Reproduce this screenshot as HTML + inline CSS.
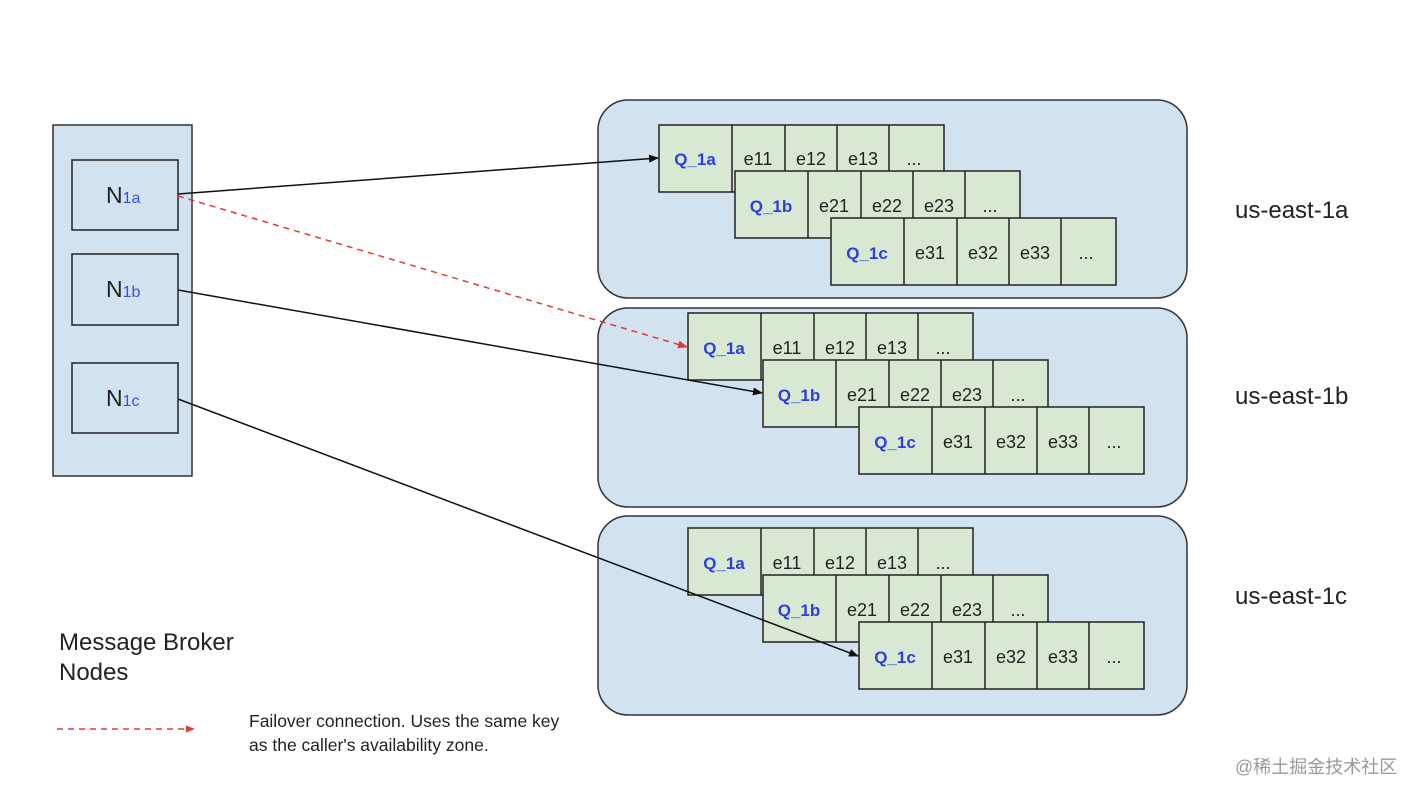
<!DOCTYPE html>
<html><head><meta charset="utf-8"><style>
html,body{margin:0;padding:0;background:#fff;}
svg{display:block;font-family:"Liberation Sans",Arial,sans-serif;}
.q{fill:#2b3ee0;font-weight:bold;font-size:17px;text-anchor:middle;}
.e{fill:#222;font-size:18px;text-anchor:middle;}
</style></head><body>
<svg width="1418" height="798" viewBox="0 0 1418 798" xmlns="http://www.w3.org/2000/svg">
<defs>
<g id="row">
<rect x="0" y="0" width="285" height="67" fill="#d9e8d2" stroke="#222" stroke-width="1.5"/>
<line x1="73" y1="0" x2="73" y2="67" stroke="#222" stroke-width="1.5"/>
<line x1="126" y1="0" x2="126" y2="67" stroke="#222" stroke-width="1.5"/>
<line x1="178" y1="0" x2="178" y2="67" stroke="#222" stroke-width="1.5"/>
<line x1="230" y1="0" x2="230" y2="67" stroke="#222" stroke-width="1.5"/>
</g>
<marker id="ab" markerWidth="10" markerHeight="8" refX="9" refY="4" orient="auto" markerUnits="userSpaceOnUse"><path d="M0,0 L10,4 L0,8 Z" fill="#111"/></marker>
<marker id="ar" markerWidth="10" markerHeight="8" refX="9" refY="4" orient="auto" markerUnits="userSpaceOnUse"><path d="M0,0 L10,4 L0,8 Z" fill="#e53935"/></marker>
</defs>

<rect x="53" y="125" width="139" height="351" fill="#d3e2ef" stroke="#333" stroke-width="1.5"/>
<rect x="72" y="160" width="106" height="70" fill="#d3e2ef" stroke="#222" stroke-width="1.5"/>
<rect x="72" y="254" width="106" height="71" fill="#d3e2ef" stroke="#222" stroke-width="1.5"/>
<rect x="72" y="363" width="106" height="70" fill="#d3e2ef" stroke="#222" stroke-width="1.5"/>
<text x="106" y="203" font-size="23" fill="#222">N<tspan font-size="16" fill="#3a4fe0">1a</tspan></text>
<text x="106" y="297" font-size="23" fill="#222">N<tspan font-size="16" fill="#3a4fe0">1b</tspan></text>
<text x="106" y="406" font-size="23" fill="#222">N<tspan font-size="16" fill="#3a4fe0">1c</tspan></text>

<rect x="598" y="100" width="589" height="198" rx="30" fill="#d3e2ef" stroke="#333" stroke-width="1.5"/>
<rect x="598" y="308" width="589" height="199" rx="30" fill="#d3e2ef" stroke="#333" stroke-width="1.5"/>
<rect x="598" y="516" width="589" height="199" rx="30" fill="#d3e2ef" stroke="#333" stroke-width="1.5"/>

<use href="#row" x="659" y="125"/>
<g transform="translate(659,125)"><text class="q" x="36" y="40">Q_1a</text><text class="e" x="99" y="40">e11</text><text class="e" x="152" y="40">e12</text><text class="e" x="204" y="40">e13</text><text class="e" x="255" y="40">...</text></g>
<use href="#row" x="735" y="171"/>
<g transform="translate(735,171)"><text class="q" x="36" y="41">Q_1b</text><text class="e" x="99" y="41">e21</text><text class="e" x="152" y="41">e22</text><text class="e" x="204" y="41">e23</text><text class="e" x="255" y="41">...</text></g>
<use href="#row" x="831" y="218"/>
<g transform="translate(831,218)"><text class="q" x="36" y="41">Q_1c</text><text class="e" x="99" y="41">e31</text><text class="e" x="152" y="41">e32</text><text class="e" x="204" y="41">e33</text><text class="e" x="255" y="41">...</text></g>

<use href="#row" x="688" y="313"/>
<g transform="translate(688,313)"><text class="q" x="36" y="41">Q_1a</text><text class="e" x="99" y="41">e11</text><text class="e" x="152" y="41">e12</text><text class="e" x="204" y="41">e13</text><text class="e" x="255" y="41">...</text></g>
<use href="#row" x="763" y="360"/>
<g transform="translate(763,360)"><text class="q" x="36" y="41">Q_1b</text><text class="e" x="99" y="41">e21</text><text class="e" x="152" y="41">e22</text><text class="e" x="204" y="41">e23</text><text class="e" x="255" y="41">...</text></g>
<use href="#row" x="859" y="407"/>
<g transform="translate(859,407)"><text class="q" x="36" y="41">Q_1c</text><text class="e" x="99" y="41">e31</text><text class="e" x="152" y="41">e32</text><text class="e" x="204" y="41">e33</text><text class="e" x="255" y="41">...</text></g>

<use href="#row" x="688" y="528"/>
<g transform="translate(688,528)"><text class="q" x="36" y="41">Q_1a</text><text class="e" x="99" y="41">e11</text><text class="e" x="152" y="41">e12</text><text class="e" x="204" y="41">e13</text><text class="e" x="255" y="41">...</text></g>
<use href="#row" x="763" y="575"/>
<g transform="translate(763,575)"><text class="q" x="36" y="41">Q_1b</text><text class="e" x="99" y="41">e21</text><text class="e" x="152" y="41">e22</text><text class="e" x="204" y="41">e23</text><text class="e" x="255" y="41">...</text></g>
<use href="#row" x="859" y="622"/>
<g transform="translate(859,622)"><text class="q" x="36" y="41">Q_1c</text><text class="e" x="99" y="41">e31</text><text class="e" x="152" y="41">e32</text><text class="e" x="204" y="41">e33</text><text class="e" x="255" y="41">...</text></g>

<line x1="178" y1="194" x2="658" y2="158" stroke="#111" stroke-width="1.5" marker-end="url(#ab)"/>
<line x1="178" y1="196" x2="687" y2="347" stroke="#e53935" stroke-width="1.5" stroke-dasharray="6,5" marker-end="url(#ar)"/>
<line x1="178" y1="290" x2="762" y2="393" stroke="#111" stroke-width="1.5" marker-end="url(#ab)"/>
<line x1="178" y1="399" x2="858" y2="656" stroke="#111" stroke-width="1.5" marker-end="url(#ab)"/>

<text x="1235" y="218" font-size="24" fill="#222">us-east-1a</text>
<text x="1235" y="404" font-size="24" fill="#222">us-east-1b</text>
<text x="1235" y="604" font-size="24" fill="#222">us-east-1c</text>

<text x="59" y="650" font-size="24" fill="#222">Message Broker</text>
<text x="59" y="680" font-size="24" fill="#222">Nodes</text>

<line x1="57" y1="729" x2="186" y2="729" stroke="#e53935" stroke-width="1.5" stroke-dasharray="6,5"/>
<path d="M186,725.5 L195,729 L186,732.5 Z" fill="#e53935"/>
<text x="249" y="727" font-size="17.5" fill="#222">Failover connection. Uses the same key</text>
<text x="249" y="751" font-size="17.5" fill="#222">as the caller's availability zone.</text>

<text x="1235" y="773" font-size="18" fill="#999" font-family="'Liberation Sans','Noto Sans CJK SC',sans-serif">@稀土掘金技术社区</text>
</svg>
</body></html>
